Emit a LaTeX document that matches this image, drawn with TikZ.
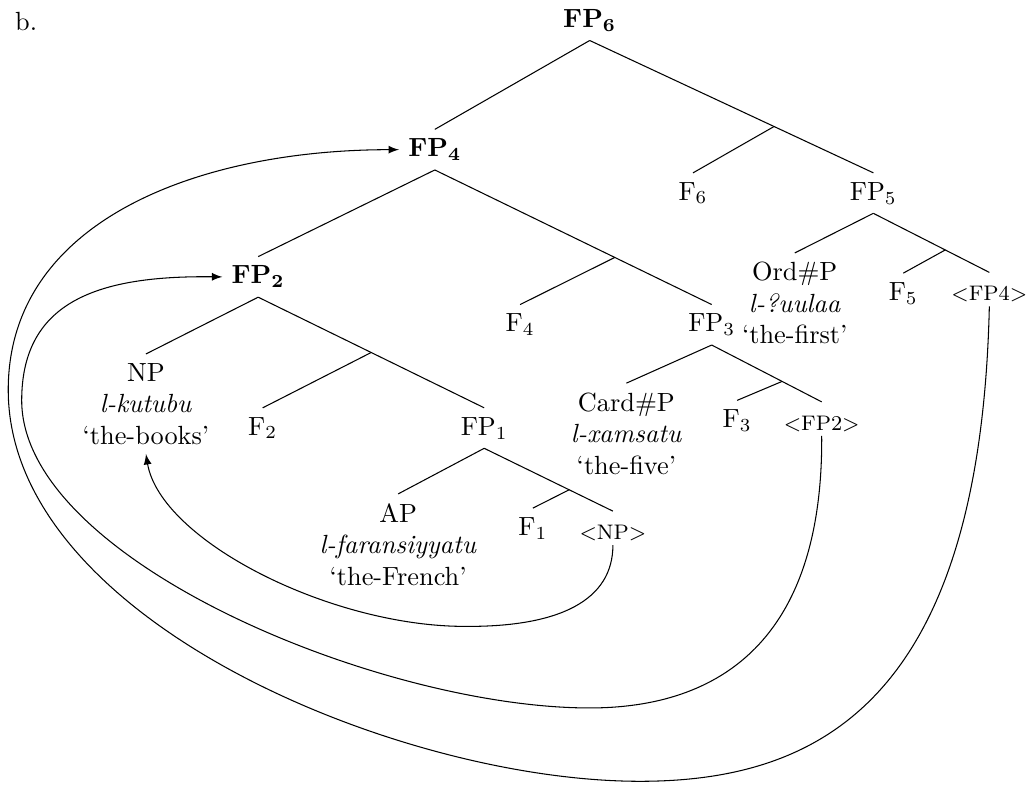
\documentclass[tikz,border=0pt]{standalone}
\usepackage{amsmath}
\tikzset{phrase/.style={align=center,anchor=north},
  tracenode/.style={font=\footnotesize,anchor=north,inner sep=2pt,
    text height=8.5pt,text depth=0pt},
  movearrow/.style={-latex}}

\begin{document}
\begin{tikzpicture}
  \useasboundingbox (0,0) rectangle (13.79,-10.48);
  \node (lbl) at (0.35,-0.29) {b.};
  \node (FP6) at (7.88,-0.27) {$\mathbf{FP_6}$};
  \node (FP4) at (5.81,-2.00) {$\mathbf{FP_4}$};
  \node (F6) at (9.26,-2.58) {F$_6$};
  \node (FP5) at (11.67,-2.58) {FP$_5$};
  \node (FP2) at (3.45,-3.70) {$\mathbf{FP_2}$};
  \node (F4) at (6.95,-4.34) {F$_4$};
  \node (FP3) at (9.51,-4.34) {FP$_3$};
  \node[phrase] (OrdP) at (10.62,-3.38) {Ord\#P\\ \textit{l-?uulaa}\\ ‘the-first’};
  \node (F5) at (12.07,-3.92) {F$_5$};
  \node[tracenode] (FPt4) at (13.22,-3.64) {<FP4>};
  \node[phrase] (NP) at (1.95,-4.73) {NP\\ \textit{l-kutubu}\\ ‘the-books’};
  \node (F2) at (3.51,-5.72) {F$_2$};
  \node (FP1) at (6.47,-5.72) {FP$_1$};
  \node[phrase] (CardP) at (8.37,-5.12) {Card\#P\\ \textit{l-xamsatu}\\ ‘the-five’};
  \node (F3) at (9.85,-5.62) {F$_3$};
  \node[tracenode] (FPt2) at (10.98,-5.37) {<FP2>};
  \node[phrase] (AP) at (5.32,-6.60) {AP\\ \textit{l-faransiyyatu}\\ ‘the-French’};
  \node (F1) at (7.12,-7.06) {F$_1$};
  \node[tracenode] (NPt) at (8.19,-6.83) {<NP>};

  \draw (FP6.south) -- (FP4.north);
  \draw (FP6.south) -- coordinate[pos=0.65] (j6) (FP5.north);
  \draw (j6) -- (F6.north);
  \draw (FP4.south) -- (FP2.north);
  \draw (FP4.south) -- coordinate[pos=0.65] (j4) (FP3.north);
  \draw (j4) -- (F4.north);
  \draw (FP5.south) -- (OrdP.north);
  \draw (FP5.south) -- coordinate[pos=0.62] (j5) (FPt4.north);
  \draw (j5) -- (F5.north);
  \draw (FP2.south) -- (NP.north);
  \draw (FP2.south) -- coordinate[pos=0.5] (j2) (FP1.north);
  \draw (j2) -- (F2.north);
  \draw (FP3.south) -- (CardP.north);
  \draw (FP3.south) -- coordinate[pos=0.64] (j3) (FPt2.north);
  \draw (j3) -- (F3.north);
  \draw (FP1.south) -- (AP.north);
  \draw (FP1.south) -- coordinate[pos=0.66] (j1) (NPt.north);
  \draw (j1) -- (F1.north);

  \draw[movearrow] (NPt.south) .. controls (8.19,-8.02) and (7.48,-8.38) .. (6.21,-8.37)
    .. controls (4.41,-8.37) and (2.14,-7.22) .. (NP.south);
  \draw[movearrow] (FPt2.south) .. controls (11.0,-8.55) and (9.62,-9.46) .. (7.88,-9.46)
    .. controls (5.08,-9.46) and (0.29,-7.48) .. (0.29,-5.35)
    .. controls (0.29,-4.01) and (1.34,-3.68) .. (FP2.west);
  \draw[movearrow] (FPt4.south) .. controls (13.10,-9.35) and (10.96,-10.44) .. (8.55,-10.44)
    .. controls (5.35,-10.44) and (0.11,-8.29) .. (0.11,-5.21)
    .. controls (0.11,-2.94) and (2.67,-2.00) .. (FP4.west);
\end{tikzpicture}
\end{document}
